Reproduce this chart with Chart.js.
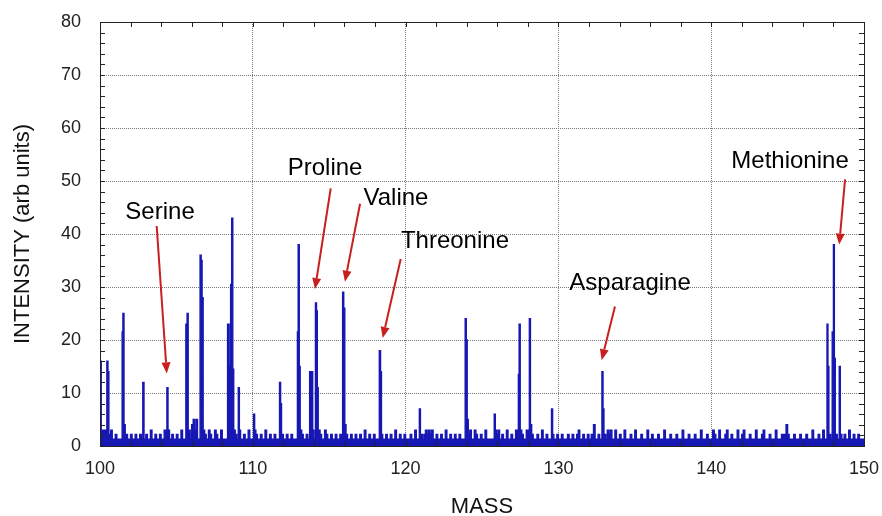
<!DOCTYPE html>
<html>
<head>
<meta charset="utf-8">
<script src="https://cdn.jsdelivr.net/npm/chart.js@4/dist/chart.umd.min.js"></script>
<style>
  html, body { margin: 0; padding: 0; background: #fff; }
  #wrap { width: 882px; height: 516px; position: relative; }
</style>
</head>
<body>
<div id="wrap"><canvas id="c" width="882" height="516"></canvas></div>
<script>
// ---- Data ----
// Each value holds from its mass until the next mass (step histogram).
const masses = [
  100.00,100.08,100.45,100.52,100.58,100.70,100.80,101.00,101.10,
  101.45,101.50,101.57,101.65,101.80,102.00,102.10,102.30,102.40,102.60,102.70,
  102.80,102.88,103.00,103.10,103.30,103.40,103.60,103.70,103.90,104.00,104.20,104.30,
  104.38,104.45,104.55,104.70,104.80,105.00,105.10,105.30,105.40,
  105.62,105.70,105.77,105.90,106.00,106.10,106.20,106.30,106.38,
  106.55,106.62,106.68,106.75,106.85,106.95,107.10,107.20,107.30,107.50,107.60,107.70,107.90,108.00,
  108.35,108.45,108.55,108.62,108.69,108.75,108.85,108.95,
  109.05,109.12,109.20,109.40,109.50,109.70,109.80,
  110.05,110.12,110.20,110.30,110.50,110.60,110.80,110.90,111.10,111.20,111.40,111.50,
  111.75,111.82,111.88,112.00,112.20,112.30,112.50,112.60,
  112.92,112.97,113.04,113.10,113.20,113.30,113.50,113.60,
  113.72,113.85,113.92,114.00,
  114.10,114.17,114.22,114.28,114.40,114.50,114.70,114.80,114.90,115.10,115.20,115.40,115.50,115.70,
  115.88,115.95,116.02,116.10,116.20,116.40,116.50,116.70,116.80,117.00,117.10,117.30,117.40,117.60,117.70,117.90,118.00,
  118.28,118.36,118.42,118.50,118.70,118.80,119.00,119.10,119.30,119.40,119.60,119.70,119.90,120.00,120.30,120.40,120.60,120.70,
  120.90,120.97,121.10,121.20,121.30,121.40,121.50,121.60,121.70,121.80,122.00,122.10,122.30,122.40,122.60,122.70,122.90,123.00,123.20,123.30,123.50,123.60,
  123.90,123.97,124.03,124.10,124.20,124.30,124.50,124.60,124.70,124.90,125.00,125.20,125.30,
  125.80,125.87,125.95,126.05,126.15,126.30,126.40,126.60,126.70,126.90,127.00,127.20,
  127.38,127.43,127.50,127.60,127.70,127.90,
  128.10,128.17,128.25,128.35,128.60,128.70,128.90,129.00,129.20,129.30,
  129.55,129.62,129.70,129.90,130.00,130.20,130.30,130.60,130.70,130.90,131.00,131.20,131.30,131.40,131.60,131.70,131.90,132.00,132.15,132.30,132.40,132.60,132.70,
  132.85,132.92,132.98,133.10,133.20,133.30,133.40,133.50,133.70,133.80,134.00,134.10,134.30,134.40,134.70,134.80,135.00,135.10,135.40,135.50,135.80,135.90,
  136.10,136.20,136.50,136.60,136.90,137.00,137.30,137.40,137.70,137.80,138.10,138.20,138.50,138.60,138.90,139.00,139.30,139.40,139.70,139.80,
  140.10,140.20,140.30,140.50,140.60,140.90,141.00,141.10,141.30,141.40,141.70,141.80,142.00,142.10,142.20,142.50,142.60,142.90,143.00,143.30,143.40,143.50,143.80,143.90,144.20,144.30,144.60,
  144.90,145.00,145.10,145.40,145.50,145.80,145.90,146.20,146.30,146.60,146.70,147.00,147.10,147.30,147.40,
  147.58,147.64,147.70,147.82,147.92,148.00,148.06,148.12,148.25,148.38,148.45,148.55,148.70,148.80,149.00,149.10,149.30,149.40,149.60,149.70,150.00
];
const intensities = [
  16,3,16,14,2.2,3,1.3,2.2,1.3,
  21.5,25,4,2.2,1.3,2.2,1.3,2.2,1.3,2.2,1.3,
  12,1.3,2.2,1.3,3,1.3,2.2,1.3,2.2,1.3,3,1.3,
  11,3,1.3,2.2,1.3,2.2,1.3,3,1.3,
  23,25,3,1.3,4,5,3,5,1.3,
  36,35,28,3,2.2,1.3,3,2.2,1.3,3,2.2,1.3,3,1.3,
  23,15,30.5,43,14.5,3,2.2,1.3,
  11,3,1.3,2.2,1.3,3,1.3,
  6,3,2.2,1.3,2.2,1.3,3,1.3,2.2,1.3,2.2,1.3,
  12,8,2.2,1.3,2.2,1.3,2.2,1.3,
  21.5,38,15,3,2.2,1.3,2.2,1.3,
  14,14,3,1.3,
  27,25.5,11,3,2.2,1.3,3,2.2,1.3,2.2,1.3,2.2,1.3,2.2,
  29,26,4,2.2,1.3,2.2,1.3,2.2,1.3,2.2,1.3,3,1.3,2.2,1.3,2.2,1.3,
  18,14,2.2,1.3,2.2,1.3,2.2,1.3,3,1.3,2.2,1.3,2.2,1.3,2.2,1.3,3,1.3,
  7,2.2,1.3,2.2,3,2.2,3,2.2,3,1.3,2.2,1.3,2.2,1.3,3,1.3,2.2,1.3,2.2,1.3,2.2,1.3,
  24,20,5,2.2,3,1.3,3,2.2,1.3,2.2,1.3,3,1.3,
  6,3,2.2,3,1.3,2.2,1.3,3,1.3,2.2,1.3,3,
  13.5,23,3,2.2,1.3,3,
  24,4,2.2,1.3,2.2,1.3,3,1.3,2.2,1.3,
  7,2.2,1.3,2.2,1.3,2.2,1.3,2.2,1.3,2.2,1.3,2.2,3,1.3,2.2,1.3,2.2,1.3,2.2,4,1.3,2.2,1.3,
  14,7,2.2,1.3,3,2.2,3,1.3,3,1.3,2.2,1.3,3,1.3,2.2,1.3,3,1.3,2.2,1.3,3,1.3,
  2.2,1.3,2.2,1.3,3,1.3,2.2,1.3,2.2,1.3,3,1.3,2.2,1.3,2.2,1.3,3,1.3,2.2,1.3,
  3,2.2,1.3,3,1.3,2.2,3,1.3,2.2,1.3,3,1.3,2.2,3,1.3,2.2,1.3,3,1.3,2.2,3,1.3,2.2,1.3,3,1.3,2.2,
  4,2.2,1.3,2.2,1.3,2.2,1.3,2.2,1.3,3,1.3,2.2,1.3,3,1.3,
  23,15,2.2,1.3,21.5,38,16.5,2.2,1.3,15,2.2,1.3,2.2,1.3,3,1.3,2.2,1.3,2.2,1.3,1.3
];

const xTicks = [100, 110, 120, 130, 140, 150];
const yTicks = [0, 10, 20, 30, 40, 50, 60, 70, 80];
const xTitle = 'MASS';
const yTitle = 'INTENSITY (arb units)';

// Annotations: label, label anchor (mass, intensity), arrow tail and head (mass, intensity)
const annLabels = ['Serine', 'Proline', 'Valine', 'Threonine', 'Asparagine', 'Methionine'];
const annText   = [[103.93, 44.0], [114.73, 52.4], [119.37, 46.8], [123.23, 38.7], [134.69, 30.6], [145.16, 53.7]];
const annTail   = [[103.71, 41.5], [115.10, 48.6], [117.02, 45.7], [119.68, 35.3], [133.70, 26.3], [148.76, 50.3]];
const annHead   = [[104.37, 13.7], [114.07, 29.6], [116.03, 31.0], [118.50, 20.4], [132.83, 16.2], [148.38, 38.0]];

// ---- Styling ----
const FONT = '"Liberation Sans", Arial, Helvetica, sans-serif';
const BLUE = '#1717b4';
const RED = '#c8201e';
const MINOR_STEP_X = 2, MINOR_STEP_Y = 2;

const points = masses.map((m, i) => ({ x: m, y: intensities[i] }));

const framePlugin = {
  id: 'frame',
  afterDatasetsDraw(chart) {
    const { ctx, chartArea: a, scales: { x, y } } = chart;
    ctx.save();
    ctx.strokeStyle = '#222';
    ctx.lineWidth = 1;
    ctx.beginPath();
    const L = 5;
    for (let v = x.min; v <= x.max; v += MINOR_STEP_X) {
      const px = Math.round(x.getPixelForValue(v)) + 0.5;
      ctx.moveTo(px, a.bottom); ctx.lineTo(px, a.bottom - L);
      ctx.moveTo(px, a.top); ctx.lineTo(px, a.top + L);
    }
    for (let v = y.min; v <= y.max; v += MINOR_STEP_Y) {
      const py = Math.round(y.getPixelForValue(v)) + 0.5;
      ctx.moveTo(a.left, py); ctx.lineTo(a.left + L, py);
      ctx.moveTo(a.right, py); ctx.lineTo(a.right - L, py);
    }
    ctx.stroke();
    ctx.strokeRect(Math.round(a.left) + 0.5, Math.round(a.top) + 0.5,
                   Math.round(a.right - a.left), Math.round(a.bottom - a.top));

    // annotations
    ctx.fillStyle = '#000';
    ctx.font = '24px ' + FONT;
    ctx.textAlign = 'center';
    ctx.textBaseline = 'middle';
    annLabels.forEach((t, i) => {
      ctx.fillText(t, x.getPixelForValue(annText[i][0]), y.getPixelForValue(annText[i][1]));
      const x0 = x.getPixelForValue(annTail[i][0]), y0 = y.getPixelForValue(annTail[i][1]);
      const x1 = x.getPixelForValue(annHead[i][0]), y1 = y.getPixelForValue(annHead[i][1]);
      const ang = Math.atan2(y1 - y0, x1 - x0);
      const HL = 11, HW = 4.5;
      const bx = x1 - HL * Math.cos(ang), by = y1 - HL * Math.sin(ang);
      ctx.strokeStyle = RED; ctx.fillStyle = RED; ctx.lineWidth = 2;
      ctx.beginPath(); ctx.moveTo(x0, y0); ctx.lineTo(bx, by); ctx.stroke();
      ctx.beginPath();
      ctx.moveTo(x1, y1);
      ctx.lineTo(bx + HW * Math.sin(ang), by - HW * Math.cos(ang));
      ctx.lineTo(bx - HW * Math.sin(ang), by + HW * Math.cos(ang));
      ctx.closePath(); ctx.fill();
      ctx.fillStyle = '#000';
    });
    ctx.restore();
  }
};

new Chart(document.getElementById('c'), {
  type: 'line',
  data: {
    datasets: [{
      data: points,
      stepped: 'before',
      borderColor: BLUE,
      backgroundColor: BLUE,
      borderWidth: 1.4,
      fill: 'origin',
      pointRadius: 0,
      tension: 0
    }]
  },
  options: {
    responsive: false,
    animation: false,
    events: [],
    layout: { padding: { left: 0, right: 18, top: 22, bottom: 0 } },
    plugins: { legend: { display: false }, tooltip: { enabled: false } },
    scales: {
      x: {
        type: 'linear',
        min: 100, max: 150,
        afterBuildTicks(s) { s.ticks = xTicks.map(v => ({ value: v })); },
        afterFit(s) { s.height = 70; s.paddingLeft = 0; s.paddingRight = 0; s.paddingTop = 0; s.paddingBottom = 0; },
        ticks: { color: '#222', font: { family: FONT, size: 18 }, padding: 12, maxRotation: 0 },
        grid: { color: '#7a7a7a', drawTicks: false, lineWidth: 1 },
        border: { display: false, dash: [1, 1] },
        title: { display: true, text: xTitle, color: '#111',
                 font: { family: FONT, size: 22, lineHeight: 0.6 }, padding: { top: 0, bottom: 2 } }
      },
      y: {
        min: 0, max: 80,
        afterBuildTicks(s) { s.ticks = yTicks.map(v => ({ value: v })); },
        afterFit(s) { s.width = 100; s.paddingLeft = 0; s.paddingRight = 0; s.paddingTop = 0; s.paddingBottom = 0; },
        ticks: { color: '#222', font: { family: FONT, size: 18 }, padding: 19 },
        grid: { color: '#7a7a7a', drawTicks: false, lineWidth: 1 },
        border: { display: false, dash: [1, 1] },
        title: { display: true, text: yTitle, color: '#111',
                 font: { family: FONT, size: 22 }, padding: { top: 10, bottom: 0 } }
      }
    }
  },
  plugins: [framePlugin]
});
</script>
</body>
</html>
